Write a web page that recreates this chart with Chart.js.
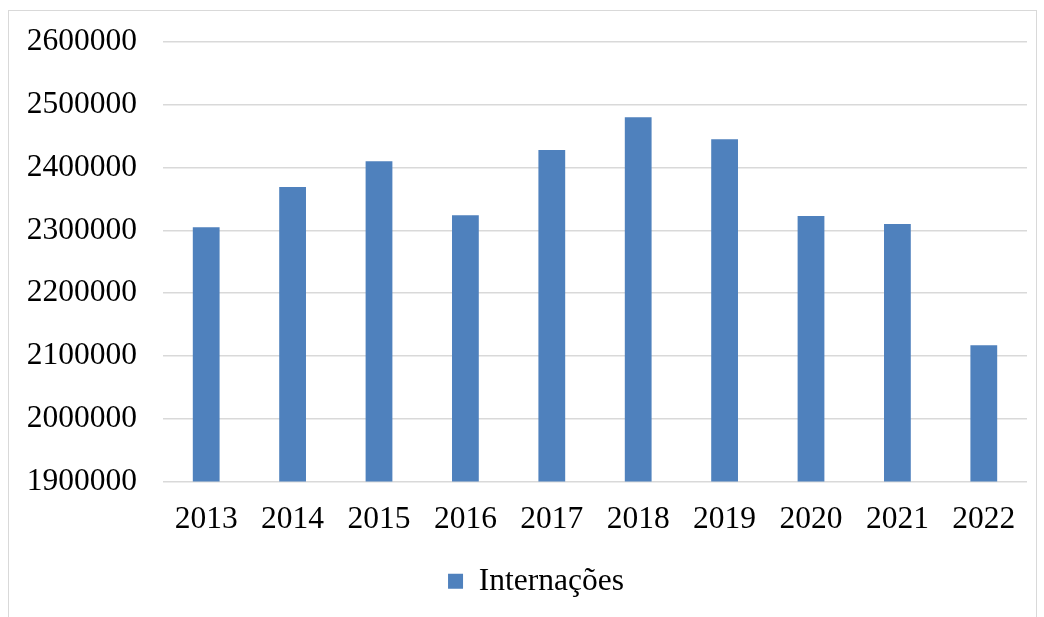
<!DOCTYPE html>
<html>
<head>
<meta charset="utf-8">
<script src="https://cdn.jsdelivr.net/npm/chart.js@4"></script>
<style>
  html, body { margin: 0; padding: 0; background: #fff; overflow: hidden; }
  #frame { position: absolute; left: 8px; top: 10px; width: 1027px; height: 620px; border: 1px solid #d9d9d9; }
  #wrap { position: absolute; left: 0; top: 0; width: 1027px; height: 606px; }
</style>
</head>
<body>
<div id="frame"><div id="wrap"><canvas id="chart"></canvas></div></div>
<script>
// hospital admissions per year
const years = ['2013','2014','2015','2016','2017','2018','2019','2020','2021','2022'];
const internacoes = [2305000, 2369000, 2410000, 2324000, 2428000, 2480000, 2445000, 2323000, 2310000, 2117000];
const yMin = 1900000;
const yMax = 2600000;
const yStep = 100000;

const serif = '"Liberation Serif", "Times New Roman", serif';
const fontSize = 31.5;

// nudge the legend a bit right, like the original
const legendShift = {
  id: 'legendShift',
  afterLayout(chart) {
    if (chart.legend) { chart.legend.left += 18; chart.legend.right += 18; }
  }
};

new Chart(document.getElementById('chart').getContext('2d'), {
  type: 'bar',
  data: {
    labels: years,
    datasets: [{
      label: 'Internações',
      data: internacoes,
      backgroundColor: '#4f81bd',
      borderWidth: 0,
      barPercentage: 0.31,
      categoryPercentage: 1
    }]
  },
  options: {
    responsive: true,
    maintainAspectRatio: false,
    animation: false,
    layout: { padding: { top: 31, right: 9, left: 0, bottom: 10 } },
    plugins: {
      legend: {
        position: 'bottom',
        labels: { font: { family: serif, size: fontSize }, color: '#000', boxWidth: 15, boxHeight: 15, padding: 10 }
      },
      tooltip: { enabled: false }
    },
    scales: {
      x: {
        grid: { display: false },
        border: { display: false },
        ticks: { font: { family: serif, size: fontSize }, color: '#000', padding: 11, maxRotation: 0 },
        afterFit: (s) => { s.height = 74; }
      },
      y: {
        min: yMin,
        max: yMax,
        grid: { color: '#d9d9d9', lineWidth: 1.5, drawTicks: false },
        border: { display: false },
        ticks: { stepSize: yStep, font: { family: serif, size: fontSize }, color: '#000', padding: 26,
          callback: (v) => String(v) },
        afterFit: (s) => { s.width = 154; s.paddingTop = 0; s.paddingBottom = 0; }
      }
    }
  },
  plugins: [legendShift]
});
</script>
</body>
</html>
